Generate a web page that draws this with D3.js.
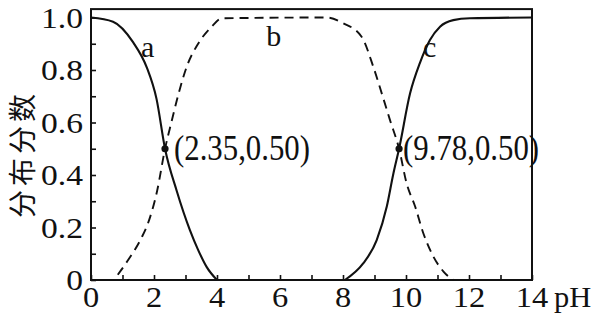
<!DOCTYPE html>
<html>
<head>
<meta charset="utf-8">
<script src="https://cdn.jsdelivr.net/npm/d3@7"></script>
<style>
  html, body { margin: 0; padding: 0; background: #fff; }
  svg { display: block; }
  text { font-family: "Liberation Serif", "Times New Roman", serif; fill: #111; }
</style>
</head>
<body>
<svg id="chart" width="594" height="314"></svg>
<script>
// ---- data ----
const xTicks = [0, 2, 4, 6, 8, 10, 12, 14];
const xMinorTicks = [1, 3, 5, 7, 9, 11, 13];
const yTicks = [0, 0.2, 0.4, 0.6, 0.8, 1.0];
const yTickLabels = ["0", "0.2", "0.4", "0.6", "0.8", "1.0"];
const yMinorTicks = [0.1, 0.3, 0.5, 0.7, 0.9];

const phA   = [0, 0.7, 1.34, 1.77, 2.08, 2.35, 2.72, 3.14, 3.4, 3.67, 4.0];
const fracA = [1.0, 0.984, 0.905, 0.81, 0.69, 0.5, 0.34, 0.19, 0.115, 0.05, 0.0];

const phB   = [0.85, 1.2, 1.6, 1.85, 2.1, 2.35, 2.55, 2.77, 3.04, 3.4, 3.83, 4.15, 7.48, 8.01, 8.59, 8.96, 9.23, 9.49, 9.78, 10.02, 10.29, 10.55, 10.87, 11.19, 11.5];
const fracB = [0.02, 0.08, 0.16, 0.23, 0.34, 0.5, 0.6, 0.705, 0.813, 0.90, 0.965, 0.997, 1.0, 0.978, 0.927, 0.813, 0.711, 0.61, 0.5, 0.368, 0.28, 0.178, 0.089, 0.032, 0.0];

const phC   = [8.06, 8.64, 9.07, 9.39, 9.6, 9.78, 10.13, 10.44, 10.76, 11.08, 11.5, 12.03, 14];
const fracC = [0.0, 0.063, 0.152, 0.28, 0.406, 0.5, 0.711, 0.826, 0.914, 0.965, 0.99, 0.997, 1.0];

const markPH   = [2.35, 9.78];
const markFrac = [0.5, 0.5];
const markText = ["(2.35,0.50)", "(9.78,0.50)"];

const curveNames = ["a", "b", "c"];
const curveNamePH = [1.80, 5.8, 10.75];
const curveNameFrac = [0.849, 0.893, 0.849];

const yTitle = "分布分数";
const xTitle = "pH";

// ---- layout ----
const svg = d3.select("#chart");
const x = d3.scaleLinear().domain([0, 14]).range([91, 532]);
const y = d3.scaleLinear().domain([0, 1]).range([280, 17.5]);
const frameTop = y(1.032);
const ink = "#111";
const markDx = [9, 4];

// frame
svg.append("rect")
  .attr("x", x(0)).attr("y", frameTop)
  .attr("width", x(14) - x(0)).attr("height", y(0) - frameTop)
  .attr("fill", "none").attr("stroke", ink).attr("stroke-width", 2);

// axes with inward ticks, labels drawn separately
const xAxis = d3.axisBottom(x).tickValues(xTicks.concat(xMinorTicks)).tickSizeInner(-5).tickSizeOuter(0).tickFormat("");
svg.append("g").attr("transform", `translate(0,${y(0)})`).call(xAxis)
  .call(g => g.select(".domain").remove())
  .call(g => g.selectAll("line").attr("stroke", ink).attr("stroke-width", 1.6));

const yAxis = d3.axisLeft(y).tickValues(yTicks.concat(yMinorTicks)).tickSizeInner(-5).tickSizeOuter(0).tickFormat("");
svg.append("g").attr("transform", `translate(${x(0)},0)`).call(yAxis)
  .call(g => g.select(".domain").remove())
  .call(g => g.selectAll("line").attr("stroke", ink).attr("stroke-width", 1.6));

// tick labels
const sx = 1.12;
svg.append("g").selectAll("text").data(xTicks).join("text")
  .attr("transform", d => `translate(${x(d)},307) scale(${sx},1)`)
  .attr("text-anchor", "middle")
  .attr("font-size", 29)
  .text(d => d);

svg.append("g").selectAll("text").data(yTicks).join("text")
  .attr("transform", d => `translate(83,${y(d) + 10}) scale(${sx},1)`)
  .attr("text-anchor", "end")
  .attr("font-size", 30)
  .text((d, i) => yTickLabels[i]);

// axis titles
svg.append("text")
  .attr("transform", `translate(${x(14) + 22},307) scale(1.05,1)`)
  .attr("font-size", 29)
  .text(xTitle);

svg.append("text")
  .attr("transform", `translate(32.5,154) rotate(-90)`)
  .attr("text-anchor", "middle")
  .attr("font-size", 28)
  .attr("letter-spacing", 4)
  .style("font-family", '"Noto Sans CJK SC", sans-serif')
  .text(yTitle);

// curves
const line = d3.line().x(d => x(d[0])).y(d => y(d[1])).curve(d3.curveMonotoneX);
const zip = (a, b) => a.map((v, i) => [v, b[i]]);

svg.append("path").datum(zip(phA, fracA)).attr("d", line)
  .attr("fill", "none").attr("stroke", ink).attr("stroke-width", 2.1);
svg.append("path").datum(zip(phB, fracB)).attr("d", line)
  .attr("fill", "none").attr("stroke", ink).attr("stroke-width", 1.9)
  .attr("stroke-dasharray", "9,6");
svg.append("path").datum(zip(phC, fracC)).attr("d", line)
  .attr("fill", "none").attr("stroke", ink).attr("stroke-width", 2.1);

// marked points and labels
svg.append("g").selectAll("circle").data(markPH).join("circle")
  .attr("cx", d => x(d)).attr("cy", (d, i) => y(markFrac[i])).attr("r", 3.6)
  .attr("fill", ink);

svg.append("g").selectAll("text").data(markPH).join("text")
  .attr("transform", (d, i) => `translate(${x(d) + markDx[i]},${y(markFrac[i]) + 11}) scale(0.88,1)`)
  .attr("font-size", 35)
  .text((d, i) => markText[i]);

// curve names
svg.append("g").selectAll("text").data(curveNames).join("text")
  .attr("x", (d, i) => x(curveNamePH[i]))
  .attr("y", (d, i) => y(curveNameFrac[i]))
  .attr("text-anchor", "middle")
  .attr("font-size", 30)
  .text(d => d);
</script>
</body>
</html>
